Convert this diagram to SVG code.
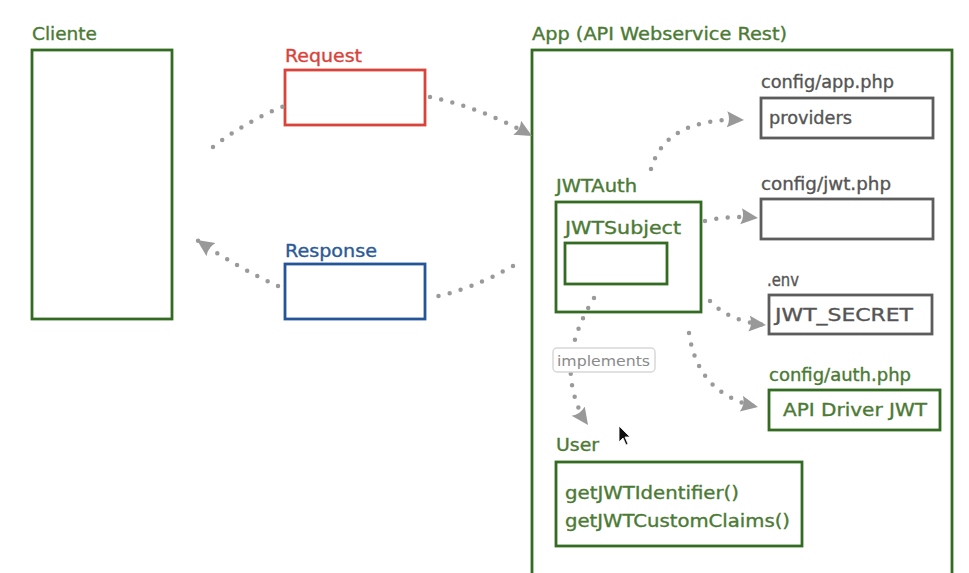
<svg xmlns="http://www.w3.org/2000/svg" width="969" height="573" viewBox="0 0 969 573">
<style>
text{font-family:"DejaVu Sans","Liberation Sans",sans-serif;font-size:17px;stroke-width:0.35px}
.g{fill:#4b7a35;stroke:#4b7a35}
.gr{fill:#555;stroke:#555}
.box{fill:#fff;stroke-width:2.8}
.gb{stroke:#336b22}
.kb{stroke:#5c5c5c}
.con{fill:none;stroke:#9a9a9a;stroke-width:4.5;stroke-dasharray:0 11.5;stroke-linecap:round}
</style>
<defs>
<marker id="ah" markerUnits="userSpaceOnUse" markerWidth="20" markerHeight="20" refX="17" refY="8" orient="auto">
<path d="M0,0 L17,8 L0,16 Q4,8 0,0z" fill="#999"/>
</marker>
</defs>
<rect width="969" height="573" fill="#fff"/>

<g id="cliente">
<text x="32" y="40" class="g" textLength="65" lengthAdjust="spacingAndGlyphs">Cliente</text>
<rect x="32" y="50" width="140" height="269" class="box gb"/>
</g>

<g id="request">
<text x="285" y="62" fill="#d8443b" stroke="#d8443b" textLength="77" lengthAdjust="spacingAndGlyphs">Request</text>
<rect x="285" y="70" width="140" height="55" class="box" stroke="#d8443b"/>
</g>

<g id="response">
<text x="285" y="257" fill="#2c5a96" stroke="#2c5a96" textLength="92" lengthAdjust="spacingAndGlyphs">Response</text>
<rect x="285" y="264" width="140" height="55" class="box" stroke="#245599"/>
</g>

<g id="app">
<text x="532" y="40" class="g" textLength="255" lengthAdjust="spacingAndGlyphs">App (API Webservice Rest)</text>
<rect x="532" y="50" width="420" height="540" class="box gb"/>
</g>

<g id="config-app">
<text x="761" y="88" class="gr" textLength="133" lengthAdjust="spacingAndGlyphs">config/app.php</text>
<rect x="761" y="98" width="172" height="40" class="box kb"/>
<text x="769" y="124" class="gr" textLength="83" lengthAdjust="spacingAndGlyphs">providers</text>
</g>

<g id="config-jwt">
<text x="761" y="190" class="gr" textLength="130" lengthAdjust="spacingAndGlyphs">config/jwt.php</text>
<rect x="761" y="199" width="172" height="40" class="box kb"/>
</g>

<g id="env">
<text x="767" y="286" class="gr" textLength="32" lengthAdjust="spacingAndGlyphs">.env</text>
<rect x="769" y="295" width="163" height="39" class="box kb"/>
<text x="775" y="321" class="gr" textLength="138" lengthAdjust="spacingAndGlyphs">JWT_SECRET</text>
</g>

<g id="config-auth">
<text x="769" y="381" class="g" textLength="142" lengthAdjust="spacingAndGlyphs">config/auth.php</text>
<rect x="769" y="390" width="171" height="40" class="box gb"/>
<text x="783" y="416" class="g" textLength="144" lengthAdjust="spacingAndGlyphs">API Driver JWT</text>
</g>

<g id="jwtauth">
<text x="556" y="192" class="g" textLength="81" lengthAdjust="spacingAndGlyphs">JWTAuth</text>
<rect x="556" y="202" width="145" height="110" class="box gb"/>
</g>

<g id="jwtsubject">
<text x="565" y="234" class="g" textLength="116" lengthAdjust="spacingAndGlyphs">JWTSubject</text>
<rect x="565" y="243" width="102" height="41" class="box gb"/>
</g>

<g id="user">
<text x="556" y="451" class="g" textLength="43" lengthAdjust="spacingAndGlyphs">User</text>
<rect x="556" y="462" width="246" height="84" class="box gb"/>
<text x="565" y="499" class="g" textLength="174" lengthAdjust="spacingAndGlyphs">getJWTIdentifier()</text>
<text x="565" y="527" class="g" textLength="225" lengthAdjust="spacingAndGlyphs">getJWTCustomClaims()</text>
</g>

<g id="connectors">
<path class="con" d="M213,147 Q245,122 284,106"/>
<path class="con" d="M430,97 Q482,108 532,136" marker-end="url(#ah)"/>
<path class="con" d="M651,169 Q666,117 744,120" marker-end="url(#ah)"/>
<path class="con" d="M705,221 Q730,215 758,218" marker-end="url(#ah)"/>
<path class="con" d="M710,301 Q730,322 766,325" marker-end="url(#ah)"/>
<path class="con" d="M689,333 Q698,395 758,407" marker-end="url(#ah)"/>
<path class="con" d="M594,298 Q565,345 572,385 Q576,408 588,425" marker-end="url(#ah)"/>
<path class="con" d="M513,266 Q470,290 434,297"/>
<path class="con" d="M278,286 Q238,268 197,240" marker-end="url(#ah)"/>
</g>

<g id="implements-label">
<rect x="553" y="348" width="102" height="24" rx="4" fill="#fff" stroke="#d8d8d8" stroke-width="1.5"/>
<text x="557" y="366" fill="#8a8a8a" style="font-size:14px;stroke:none" textLength="93" lengthAdjust="spacingAndGlyphs">implements</text>
</g>

<g id="cursor">
<path d="M619,426 L619,442 L623,438 L626,445 L628,444 L625,437 L630,437 Z" fill="#111" stroke="#fff" stroke-width="0.8"/>
</g>
</svg>
